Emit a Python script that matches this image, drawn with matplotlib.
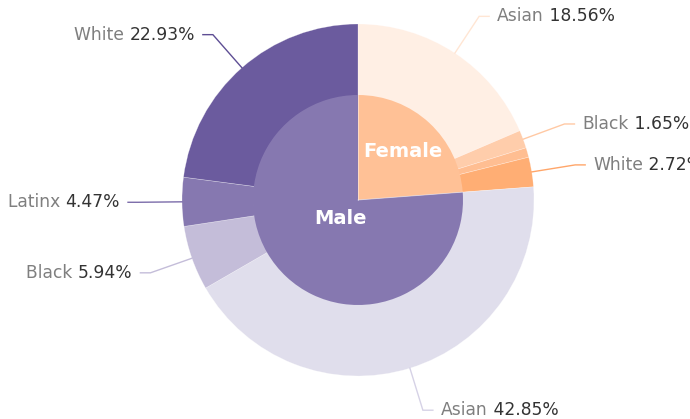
import numpy as np
import matplotlib
matplotlib.use('Agg')
import matplotlib.pyplot as plt

# share of respondents by gender and race (percent of total)
GENDERS = ['Female', 'Male']
RACES = ['Asian', 'Black', 'Latinx', 'White']
FEMALE_PCT = [18.56, 1.65, 0.88, 2.72]
MALE_PCT = [42.85, 5.94, 4.47, 22.93]

INNER_COLORS = ['#FFC196', '#8678B0']
FEMALE_COLORS = ['#FFEFE4', '#FFCDAB', '#FFBE92', '#FFAE74']
MALE_COLORS = ['#E0DEEC', '#C4BDD9', '#8678B0', '#6B5B9E']
FEMALE_LINE = ['#FFE6D4', '#FFC9A4', '#FFBE92', '#FFA66A']
MALE_LINE = ['#D6D2E6', '#C4BDD9', '#7B6CAA', '#5E4E94']

W, H = 690, 419
CX, CY = 358, 219          # pie centre in pixel-like data units
R_OUT, R_IN = 176, 105
MIN_LABEL = 1.0            # slices below this share get no label

fig = plt.figure(figsize=(W / 100, H / 100), dpi=100)
fig.patch.set_facecolor('white')
ax = fig.add_axes([0, 0, 1, 1])

inner_vals = [sum(FEMALE_PCT), sum(MALE_PCT)]
outer_vals = FEMALE_PCT + MALE_PCT
outer_colors = FEMALE_COLORS + MALE_COLORS
line_colors = FEMALE_LINE + MALE_LINE
outer_names = RACES + RACES

ax.pie(outer_vals, radius=R_OUT, center=(CX, CY), startangle=90,
       counterclock=False, colors=outer_colors,
       wedgeprops=dict(width=R_OUT - R_IN + 1, linewidth=0.4,
                       edgecolor='#FFFFFF70'))
ax.pie(inner_vals, radius=R_IN, center=(CX, CY), startangle=90,
       counterclock=False, colors=INNER_COLORS,
       wedgeprops=dict(linewidth=0))
ax.set_xlim(0, W)
ax.set_ylim(0, H)
ax.set_aspect('equal')
ax.axis('off')


def point(frac, r):
    # frac = cumulative share (0..1) measured clockwise from 12 o'clock
    a = 2 * np.pi * frac
    return CX + r * np.sin(a), CY + r * np.cos(a)


# thin separator between the two inner halves
total = sum(inner_vals)
for frac in [0.0, inner_vals[0] / total]:
    xe, ye = point(frac, R_IN)
    ax.plot([CX, xe], [CY, ye], color='#FFFFFF', alpha=0.5, lw=0.6)

# inner labels
cum = 0.0
for name, v, rr in zip(GENDERS, inner_vals, [66, 25]):
    x, y = point((cum + v / 2) / total, rr)
    ax.text(x, y, name, color='white', fontsize=14, fontweight='bold',
            ha='center', va='center')
    cum += v

# outer labels with leader lines
cum = 0.0
for name, v, lc in zip(outer_names, outer_vals, line_colors):
    mid = (cum + v / 2) / total
    cum += v
    if v < MIN_LABEL:
        continue
    x0, y0 = point(mid, R_OUT)
    x1, y1 = point(mid, R_OUT + 44)
    side = 1 if x1 >= CX else -1
    x2 = x1 + side * 10
    ax.plot([x0, x1, x2], [y0, y1, y1], color=lc, lw=1,
            solid_joinstyle='miter')
    tx = x2 + side * 8
    val = f'{v:.2f}%'
    if side > 0:
        t = ax.text(tx, y1, name, color='#7F7F7F', fontsize=12.3,
                    ha='left', va='center')
        ax.annotate(' ' + val, xy=(1, 0), xycoords=t, color='#333333',
                    fontsize=12.3, ha='left', va='bottom')
    else:
        t = ax.text(tx, y1, val, color='#333333', fontsize=12.3,
                    ha='right', va='center')
        ax.annotate(name + ' ', xy=(0, 0), xycoords=t, color='#7F7F7F',
                    fontsize=12.3, ha='right', va='bottom')

fig.savefig('out.png', dpi=100, facecolor='white')
